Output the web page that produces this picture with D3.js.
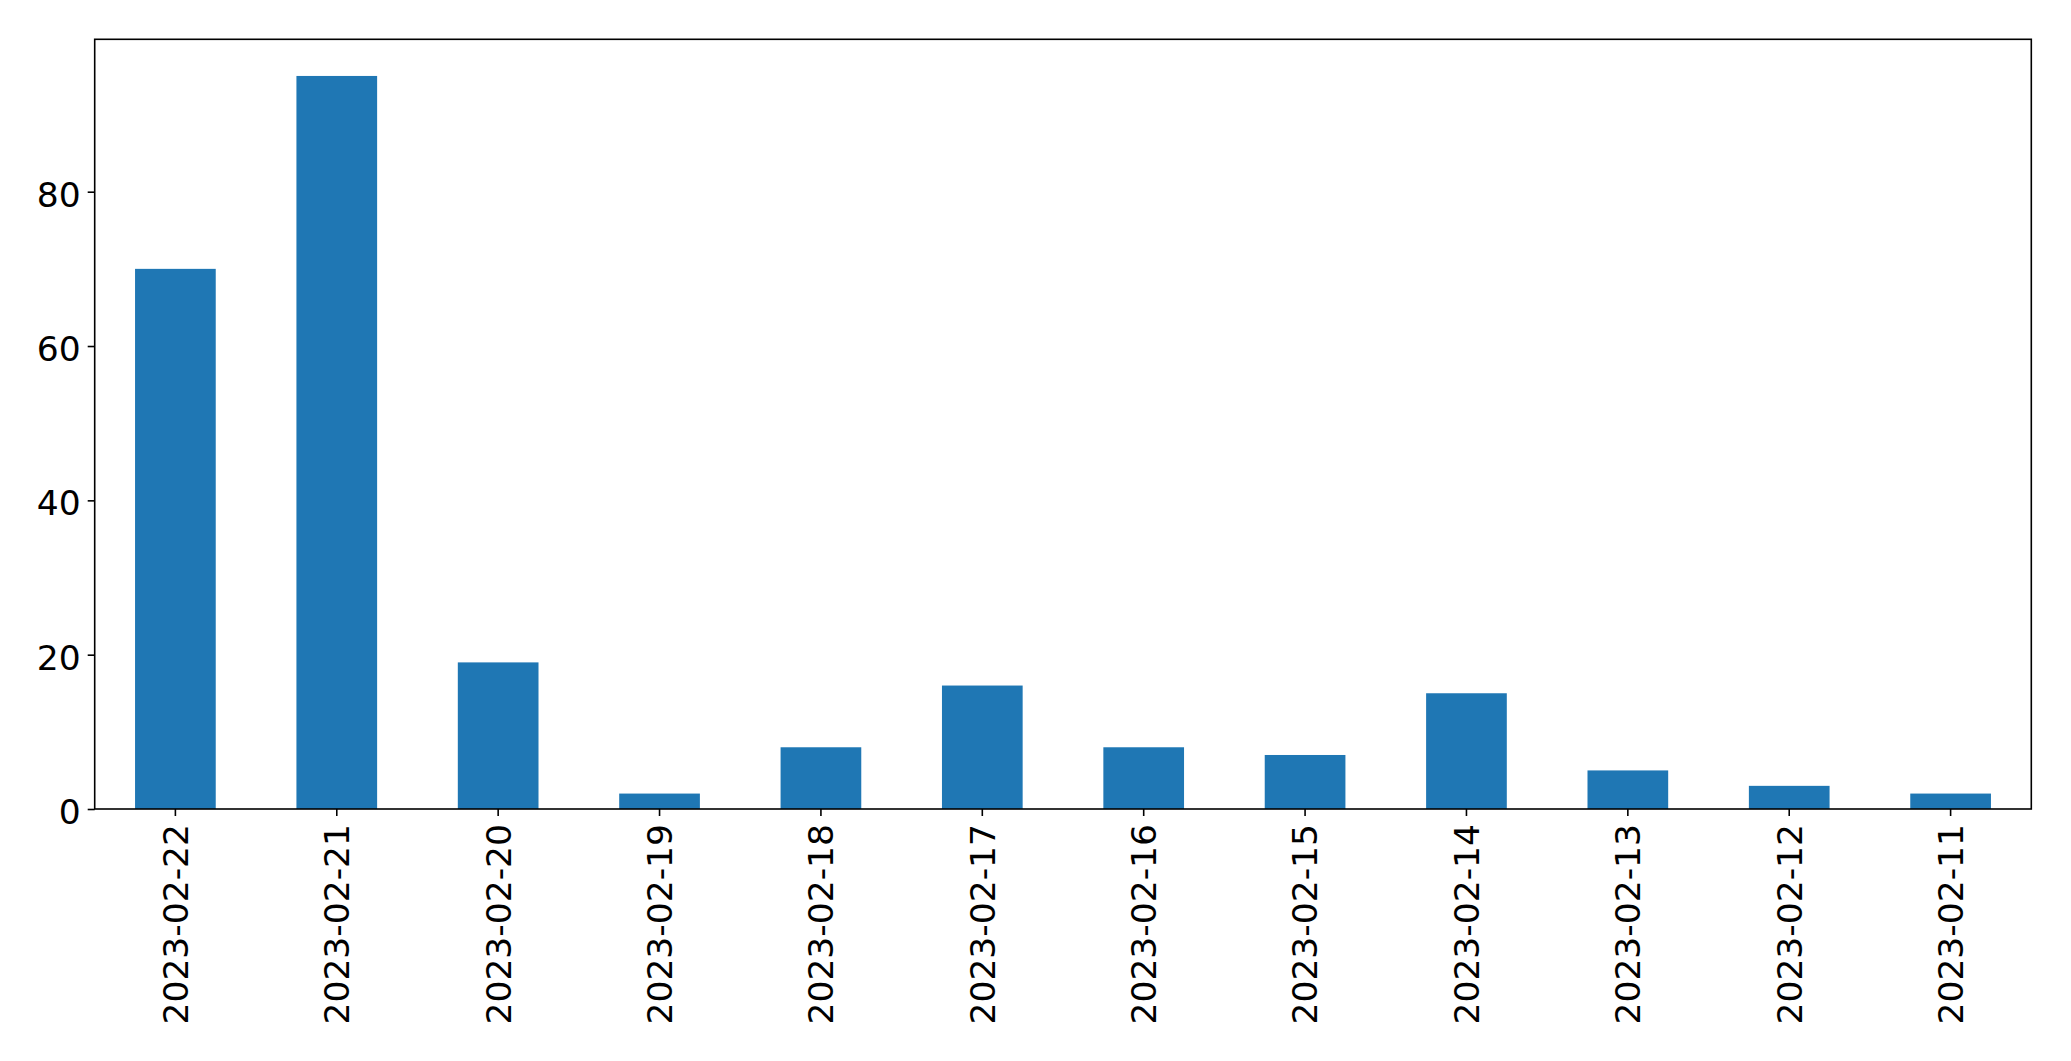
<!DOCTYPE html>
<html>
<head>
<meta charset="utf-8">
<script src="https://cdn.jsdelivr.net/npm/d3@7"></script>
<style>
  html, body { margin: 0; padding: 0; background: #fff; }
  svg { display: block; }
  text { font-family: "DejaVu Sans", sans-serif; }
</style>
</head>
<body>
<svg id="chart" width="2071" height="1061"></svg>
<script>
const categories = ["2023-02-22","2023-02-21","2023-02-20","2023-02-19","2023-02-18","2023-02-17","2023-02-16","2023-02-15","2023-02-14","2023-02-13","2023-02-12","2023-02-11"];
const values = [70, 95, 19, 2, 8, 16, 8, 7, 15, 5, 3, 2];
const yTicks = [0, 20, 40, 60, 80];

const plotLeft = 94.7, plotRight = 2031.3, plotTop = 39.3, plotBottom = 809;
const fontSize = 34.5;
const tickLen = 7, tickPad = 7;

const svg = d3.select("#chart");

const x = d3.scaleBand().domain(categories).range([plotLeft, plotRight]).paddingInner(0.5).paddingOuter(0.25);
const yMax = d3.max(values) * 1.05;
const y = d3.scaleLinear().domain([0, yMax]).range([plotBottom, plotTop]);

// bars
svg.append("g").selectAll("rect").data(values).join("rect")
  .attr("x", (d, i) => x(categories[i]))
  .attr("y", d => y(d))
  .attr("width", x.bandwidth())
  .attr("height", d => y(0) - y(d))
  .attr("fill", "#1f77b4");

// frame
svg.append("rect")
  .attr("x", plotLeft).attr("y", plotTop)
  .attr("width", plotRight - plotLeft).attr("height", plotBottom - plotTop)
  .attr("fill", "none").attr("stroke", "#000").attr("stroke-width", 1.6);

// y axis
const yAxis = svg.append("g").attr("transform", `translate(${plotLeft},0)`)
  .call(d3.axisLeft(y).tickValues(yTicks).tickSize(tickLen).tickPadding(tickPad).tickFormat(d3.format("d")));
yAxis.select(".domain").remove();
yAxis.selectAll(".tick line").attr("stroke", "#000").attr("stroke-width", 1.6);
yAxis.selectAll(".tick text")
  .attr("font-size", fontSize).attr("font-family", "DejaVu Sans")
  .attr("fill", "#000").attr("dy", "0.42em");

// x axis
const xAxis = svg.append("g").attr("transform", `translate(0,${plotBottom})`)
  .call(d3.axisBottom(x).tickSize(tickLen).tickPadding(tickPad));
xAxis.select(".domain").remove();
xAxis.selectAll(".tick line").attr("stroke", "#000").attr("stroke-width", 1.6);
xAxis.selectAll(".tick text")
  .attr("font-size", fontSize).attr("font-family", "DejaVu Sans")
  .attr("fill", "#000")
  .attr("transform", "rotate(-90)")
  .attr("text-anchor", "end")
  .attr("x", -(tickLen + tickPad + 1))
  .attr("y", 0)
  .attr("dy", "0.36em");
</script>
</body>
</html>
